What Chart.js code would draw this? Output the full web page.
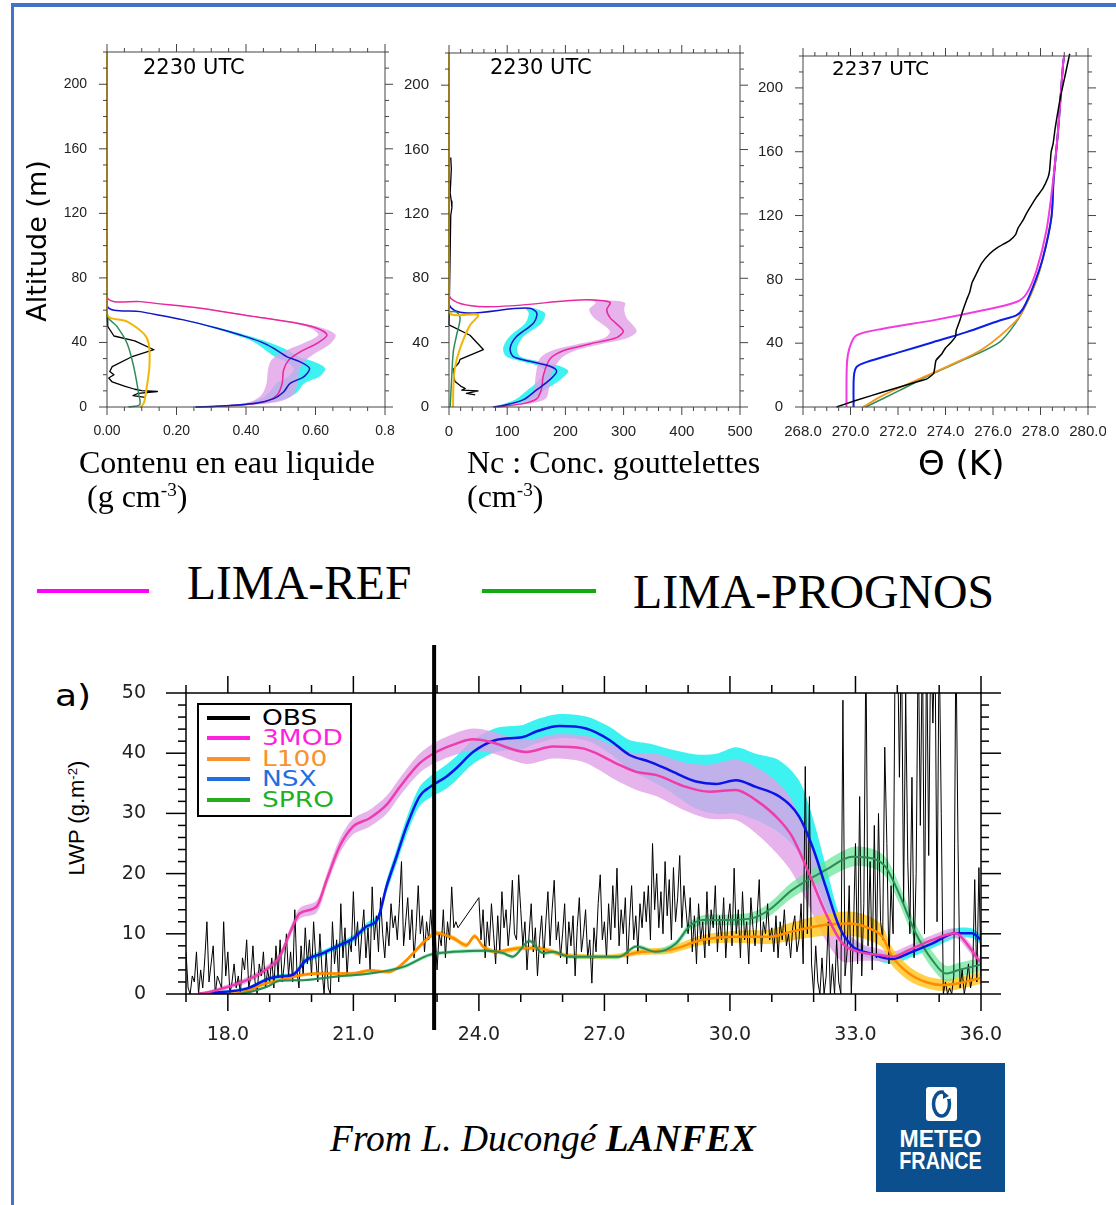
<!DOCTYPE html>
<html><head><meta charset="utf-8">
<script src="https://cdn.jsdelivr.net/npm/chart.js@4/dist/chart.umd.min.js"></script>
<style>
html,body{margin:0;padding:0;background:#fff;}
#page{position:relative;width:1116px;height:1205px;overflow:hidden;background:#fff;}
.abs{position:absolute;white-space:nowrap;line-height:1;}
canvas{position:absolute;}
.serif{font-family:"Liberation Serif","Times New Roman",serif;color:#000;}
.dv{font-family:"DejaVu Sans",sans-serif;color:#000;}
.sup{font-size:60%;position:relative;top:-0.55em;}
</style></head><body>
<div id="page">
  <div class="abs" style="left:11px;top:3px;width:1105px;height:4px;background:#4472c4"></div>
  <div class="abs" style="left:11px;top:3px;width:3px;height:1202px;background:#4472c4"></div>

  <canvas id="c1" width="390" height="420" style="left:15px;top:30px"></canvas>
  <canvas id="c2" width="365" height="420" style="left:395px;top:30px"></canvas>
  <canvas id="c3" width="351" height="420" style="left:755px;top:30px"></canvas>
  <canvas id="c4" width="930" height="420" style="left:100px;top:630px"></canvas>

  <div class="abs dv" style="left:143px;top:57px;font-size:21px">2230 UTC</div>
  <div class="abs dv" style="left:490px;top:57px;font-size:21px">2230 UTC</div>
  <div class="abs dv" style="left:832px;top:58px;font-size:20px">2237 UTC</div>

  <div class="abs dv" style="left:-63px;top:224px;width:200px;height:34px;line-height:34px;text-align:center;font-size:27px;transform:rotate(-90deg)">Altitude (m)</div>

  <div class="abs serif" style="left:79px;top:446px;font-size:32px">Contenu en eau liquide</div>
  <div class="abs serif" style="left:87px;top:480px;font-size:32px">(g cm<span class="sup">-3</span>)</div>
  <div class="abs serif" style="left:467px;top:446px;font-size:32px">Nc : Conc. gouttelettes</div>
  <div class="abs serif" style="left:467px;top:480px;font-size:32px">(cm<span class="sup">-3</span>)</div>
  <div class="abs dv" style="left:918px;top:446px;font-size:34px">Θ (K)</div>

  <div class="abs" style="left:37px;top:589px;width:112px;height:4px;background:#ff00ff"></div>
  <div class="abs serif" style="left:187px;top:560px;font-size:47.5px">LIMA-REF</div>
  <div class="abs" style="left:482px;top:589px;width:114px;height:4px;background:#11aa11"></div>
  <div class="abs serif" style="left:633px;top:568px;font-size:47.8px">LIMA-PROGNOS</div>

  <div class="abs dv" style="left:55px;top:681px;font-size:30px;transform:scaleX(1.2);transform-origin:left">a)</div>
  <div class="abs" style="left:-3px;top:804px;width:160px;height:28px;line-height:28px;text-align:center;font-family:'Liberation Sans',Arial,sans-serif;font-size:22px;transform:rotate(-90deg)">LWP (g.m<span class="sup">-2</span>)</div>

  <div class="abs" style="left:197px;top:703px;width:155px;height:114px;border:2px solid #000;box-sizing:border-box;background:#fff"></div>
  <div id="lg"></div>

  <div class="abs serif" style="left:330px;top:1120px;font-size:37.5px;font-style:italic">From L. Ducongé <b>LANFEX</b></div>

  <div class="abs" style="left:876px;top:1063px;width:129px;height:129px;background:#0b4f8e"></div>
  <svg style="position:absolute;left:926px;top:1087px" width="31" height="34" viewBox="0 0 31 34">
    <rect x="0" y="0" width="31" height="34" rx="3" fill="#fff"/>
    <ellipse cx="15.5" cy="17" rx="8" ry="12" fill="none" stroke="#0b4f8e" stroke-width="3.5"/>
    <rect x="18" y="3" width="6" height="9" fill="#fff"/>
    <path d="M17 4 L23 9 L17 12 Z" fill="#0b4f8e"/>
  </svg>
  <div class="abs" style="left:876px;top:1128px;width:129px;text-align:center;color:#fff;font-family:'Liberation Sans',Arial,sans-serif;font-weight:bold;font-size:23px">METEO</div>
  <div class="abs" style="left:876px;top:1150px;width:129px;text-align:center;color:#fff;font-family:'Liberation Sans',Arial,sans-serif;font-weight:bold;font-size:23px;transform:scaleX(0.86)">FRANCE</div>
</div>
<script>
// ---------------- DATA ----------------
// Panel 1: liquid water content profiles (altitude m, LWC)
const lwcAltRef = [220, 68.5, 65.3, 61.2, 56.4, 52.3, 48.8, 44.6, 39.4, 34.2, 29.1, 22.8, 14.6, 7.3, 3.1, 0.9, 0];
const lwcRef    = [0, 0, 0.096, 0.269, 0.413, 0.537, 0.604, 0.633, 0.604, 0.556, 0.523, 0.508, 0.504, 0.489, 0.451, 0.364, 0.254];
const lwcRefSpread = [0, 0, 0.004, 0.006, 0.008, 0.012, 0.018, 0.025, 0.04, 0.05, 0.05, 0.045, 0.045, 0.045, 0.04, 0.02, 0.01];
const lwcAltNsx = [220, 63.3, 59.1, 54.0, 48.8, 44.6, 40.5, 36.3, 31.1, 28.0, 23.9, 18.7, 14.6, 9.3, 5.2, 2.1, 0.4, 0];
const lwcNsx    = [0, 0, 0.096, 0.220, 0.317, 0.384, 0.441, 0.480, 0.518, 0.556, 0.583, 0.566, 0.527, 0.508, 0.480, 0.422, 0.317, 0.255];
const lwcNsxSpread = [0, 0, 0.003, 0.005, 0.01, 0.015, 0.02, 0.03, 0.035, 0.04, 0.045, 0.045, 0.04, 0.04, 0.035, 0.03, 0.015, 0.01];
const lwcAltObs = [57, 50, 44, 41, 35.5, 31, 25, 22, 20, 18, 15.5, 13, 11, 10.2, 9.6, 8.5, 7, 6];
const lwcObs    = [0, 0.002, 0.02, 0.08, 0.135, 0.07, 0.015, 0.008, 0.02, 0.005, 0.015, 0.05, 0.08, 0.10, 0.145, 0.09, 0.075, 0.11];
const lwcAltSpro = [220, 57, 49.8, 39.4, 24.9, 8.3, 1.5, 0];
const lwcSpro    = [0, 0, 0.029, 0.058, 0.077, 0.091, 0.094, 0.062];
const lwcAltL100 = [220, 57.5, 52.9, 45.6, 39.4, 24.9, 10.4, 3.1, 0.5, 0];
const lwcL100    = [0, 0, 0.058, 0.105, 0.12, 0.122, 0.113, 0.107, 0.1, 0.095];

// Panel 2: droplet concentration profiles (cm-3)
const ncAltRef = [220, 69, 66.6, 65, 60.6, 55.4, 47.2, 43.1, 39.2, 35, 29.9, 19.6, 11.3, 5.2, 2.1, 0];
const ncRef    = [0, 0, 242, 277, 271, 277, 299.5, 288, 242, 196, 173.5, 162, 159, 151, 128, 82];
const ncRefSpread = [0, 0, 10, 25, 30, 28, 23, 20, 20, 20, 18, 13, 13, 15, 10, 5];
const ncAltNsx = [220, 63.9, 61.4, 58.3, 52.1, 43.8, 36.6, 31.5, 28.4, 25.3, 22.2, 17, 10.8, 4.6, 0.9, 0];
const ncNsx    = [0, 0, 139, 151, 145, 116, 105, 110, 139, 173.5, 185, 173.5, 151, 128, 93, 76];
const ncNsxSpread = [0, 0, 8, 14, 14, 12, 12, 12, 15, 18, 20, 18, 15, 14, 8, 4];
const ncAltObs = [155, 148, 140, 133, 128, 124, 119, 51, 44.6, 35.7, 29.6, 27.5, 23.4, 16, 13, 11.5, 10.5, 10, 8.5, 7.5];
const ncObs    = [3, 4, 3, 2, 4, 5, 3, 0, 36, 59, 19, 17, 7, 10, 20, 28, 22, 50, 30, 45];
const ncAltSpro = [220, 60, 59, 55, 44.6, 34.3, 18, 0];
const ncSpro    = [0, 0, 13, 19, 13, 7.4, 4.6, 2];
const ncAltL100 = [220, 59.3, 57.3, 50.8, 36.4, 24, 11.6, 0];
const ncL100    = [0, 0, 50, 36, 19, 10, 7.4, 7];

// Panel 3: potential temperature profiles (K)
const thAltRef = [0, 27.2, 37.6, 44.9, 49.1, 54.3, 60.6, 65.8, 71, 85.6, 110.6, 141.9, 173.2, 215, 220];
const thRef    = [269.83, 269.85, 269.97, 270.25, 271.37, 273.47, 275.58, 276.98, 277.41, 277.83, 278.25, 278.53, 278.74, 278.95, 279.0];
const thAltNsx = [0, 18.8, 25, 28.1, 34.4, 40.6, 46.9, 54.2, 57.4, 61.5, 75.1, 93.9, 118.9, 141.9, 173.2, 215, 220];
const thNsx    = [270.13, 270.14, 270.25, 270.67, 272.07, 273.47, 274.88, 276.28, 276.98, 277.26, 277.68, 278.11, 278.46, 278.55, 278.74, 278.95, 279.0];
const thAltL100 = [0, 7.3, 16.7, 26.1, 36.5, 54.2, 64.6, 79.3, 93.9, 118.9, 141.9, 173.2, 215, 220];
const thL100    = [270.53, 271.37, 272.77, 274.18, 275.58, 276.98, 277.41, 277.83, 278.11, 278.46, 278.55, 278.74, 278.95, 279.0];
const thAltSpro = [0, 10.4, 20.9, 30.3, 40.7, 53.2, 64.6, 79.3, 93.9, 118.9, 141.9, 173.2, 215, 220];
const thSpro    = [270.64, 272.07, 273.47, 274.88, 276.28, 276.98, 277.41, 277.83, 278.11, 278.46, 278.55, 278.74, 278.95, 279.0];
const thAltObs = [0, 4.2, 9.4, 15.7, 17.5, 21, 29.2, 33.4, 37, 39.6, 44, 48, 50, 55, 60, 66.8, 72, 78, 83.5, 90, 96, 100, 104.3, 108, 112, 116.9, 121, 126, 131.5, 137, 144, 148, 155, 160, 164.9, 175, 185.8, 195, 206.7, 221.4];
const thObs    = [269.41, 270.25, 271.37, 272.77, 273.2, 273.5, 273.6, 273.85, 274.0, 274.18, 274.42, 274.45, 274.5, 274.62, 274.72, 274.88, 275.02, 275.12, 275.3, 275.52, 275.86, 276.2, 276.7, 276.95, 277.05, 277.26, 277.4, 277.6, 277.83, 278.1, 278.32, 278.38, 278.42, 278.45, 278.53, 278.62, 278.74, 278.85, 279.02, 279.23];

// Axis ticks
const altTicks = [0, 40, 80, 120, 160, 200];
const altTickLabels = ['0', '40', '80', '120', '160', '200'];
const lwcTicks = [0, 0.2, 0.4, 0.6, 0.8];
const lwcTickLabels = ['0.00', '0.20', '0.40', '0.60', '0.8'];
const ncTicks = [0, 100, 200, 300, 400, 500];
const ncTickLabels = ['0', '100', '200', '300', '400', '500'];
const thTicks = [268, 270, 272, 274, 276, 278, 280];
const thTickLabels = ['268.0', '270.0', '272.0', '274.0', '276.0', '278.0', '280.0'];
const lwpTimeTicks = [18, 21, 24, 27, 30, 33, 36];
const lwpTimeLabels = ['18.0', '21.0', '24.0', '27.0', '30.0', '33.0', '36.0'];
const lwpTicks = [0, 10, 20, 30, 40, 50];
const lwpTickLabels = ['0', '10', '20', '30', '40', '50'];

// Panel 4: LWP time series (hours UTC, g m-2)
const obsStart = 17.0, obsStep = 0.05;
const obsLwp = [
  7,1,0,3,2,7,0,4,1,6,12,2,5,8,0,3,2,1,12,3,
  7,0,2,5,1,3,0,6,4,9,1,3,8,2,0,5,3,7,1,4,
  2,6,1,8,3,9,2,5,10,3,7,2,14,4,1,8,3,11,5,9,
  3,12,6,2,10,4,0,7,1,0,12,5,9,2,15,6,11,3,9,7,
  17,8,12,5,10,14,6,11,4,17.8,9,13,7,16,10,6,12,8,15,11,
  13,9,15,22,8,12,16,9,14,6,11,18,10,13,7,12,9,14,8,11,
  4,10,8,14,6,12,9,17.8,11,12,11,null,null,null,null,null,null,null,null,null,
  16,9,14,6,12,8,15,10,5,13,7,17,11,14,8,12,18.9,10,9,19.8,
  14,8,12,4,10,15,7,11,3,9,13,6,12,17,8,14,18.9,9,12,6,
  10,15,5,12,8,13,3,11,16,7,10,14,6,9,1.8,11,7,15,19.8,9,
  12,6,15,9,18,11,20.9,8,14,10,16,5,12,18,9,13,7,15,11,17,
  12,18,9,25,14,20,11,17,10,22,13,19,9,21,12,16,23,11,18,14,
  10,16,7,13,5,15,9,12,6,17,8,14,11,18,7,13,9,16,6,12,
  15,8,20.9,10,14,6,17,9,12,5,16,11,8,13,19,7,12,10,15,9,
  11,7,13,6,12,9,14,8,10,6,11,13,7,9,15,5,37.8,10,32.8,5,
  0,8,2,0,6,0,3,12,0,5,0,9,2,0,48.8,3,7,18,0,10,
  25,5,32.8,3,15,58,8,22,4,28,6,30,12,9,41,25,5,18,10,60,
  62,36,60,15,50,22,10,36,6,20,60,28,60,10,60,23,60,45,60,12,
  60,30,0,2,0,1,0,3,60,25,1,4,0,2,5,1,3,19,2,21,
  3
];
const t3mod = [17.3, 17.6, 18.45, 19.0, 19.24, 19.48, 19.72, 20.12, 20.36, 20.67, 20.99, 21.39, 21.79, 22.11, 22.58, 22.98, 23.46, 23.86, 24.26, 25.13, 25.77, 26.48, 26.8, 27.28, 27.76, 28.23, 28.95, 29.51, 30.14, 30.62, 31.18, 31.49, 31.89, 32.29, 32.69, 33.09, 33.56, 33.88, 34.28, 34.84, 35.39, 35.71, 35.95, 36.0];
const lwp3mod = [0, 0.4, 2.3, 4.5, 6.2, 10.1, 13.4, 14.5, 18.9, 24.5, 27.8, 29.2, 31.4, 34.4, 38.3, 40.2, 41.6, 42.3, 41.9, 40.2, 41.1, 40.8, 40.0, 38.3, 36.9, 36.4, 34.4, 33.6, 33.9, 32.2, 28.9, 26.1, 20.0, 13.4, 8.4, 7.0, 6.5, 6.2, 7.3, 9.0, 10.1, 7.9, 5.6, 5.3];
const spread3mod = [0.2, 0.3, 0.5, 0.6, 0.7, 0.8, 0.9, 1, 1, 1.2, 1.3, 1.4, 1.5, 1.5, 1.6, 1.7, 1.8, 1.8, 1.8, 2, 2, 2.2, 2.5, 2.8, 3, 3.5, 4, 4.5, 5, 5.5, 6, 6, 5.5, 4.5, 3, 1.5, 1, 0.8, 0.8, 0.8, 0.8, 0.8, 0.8, 0.8];
const tNsx = [17.3, 17.65, 18.45, 19.0, 19.24, 19.56, 19.87, 20.28, 20.67, 20.99, 21.31, 21.59, 21.79, 22.03, 22.27, 22.58, 22.9, 23.22, 23.46, 23.86, 24.41, 25.05, 25.37, 25.93, 26.56, 27.12, 27.6, 28.07, 28.55, 29.19, 29.67, 30.14, 30.62, 31.18, 31.65, 31.97, 32.29, 32.61, 32.93, 33.33, 33.88, 34.28, 34.84, 35.39, 35.79, 35.95, 36.0];
const lwpNsx = [0, 0.2, 0.9, 2.6, 2.9, 3.2, 5.6, 6.8, 8.1, 9.2, 11.2, 12.6, 17.8, 22.8, 27.8, 32.8, 34.7, 36.1, 37.5, 40.2, 42.2, 42.7, 43.6, 44.5, 44.1, 42.2, 39.7, 38.6, 37.2, 35.3, 34.9, 35.5, 34.4, 32.8, 29.5, 24.5, 17.8, 11.2, 7.9, 6.8, 5.8, 6.8, 8.4, 10.1, 10.1, 9.3, 9.0];
const spreadNsx = [0.2, 0.2, 0.3, 0.4, 0.4, 0.4, 0.5, 0.5, 0.5, 0.6, 0.6, 0.7, 1, 1.2, 1.4, 1.6, 1.8, 2, 2, 2, 2, 2, 2, 2, 2, 2.2, 2.5, 3, 3.5, 4.5, 5, 5.5, 5.5, 6, 6, 5, 3.5, 2, 1, 0.8, 0.8, 0.8, 0.8, 0.8, 0.8, 0.8, 0.8];
const tL100 = [17.3, 18.21, 18.93, 19.24, 19.8, 20.28, 20.99, 21.39, 21.87, 22.19, 22.5, 22.74, 22.98, 23.38, 23.7, 23.9, 24.1, 24.41, 24.97, 25.37, 25.77, 26.0, 26.56, 27.2, 27.91, 28.55, 29.35, 30.14, 30.94, 31.49, 32.29, 32.85, 33.33, 33.64, 33.88, 34.28, 34.68, 35.07, 35.47, 35.95, 36.0];
const lwpL100 = [0, 0.1, 1.8, 2.3, 3.2, 3.4, 3.4, 3.9, 3.7, 5.1, 7.3, 9.0, 10.1, 9.3, 8.1, 9.6, 7.9, 7.0, 7.6, 7.6, 7.0, 6.5, 6.2, 6.2, 7.0, 7.3, 9.0, 9.5, 9.5, 10.4, 11.5, 11.7, 10.9, 9.5, 6.2, 3.4, 2.0, 1.5, 1.8, 2.6, 2.7];
const spreadL100 = [0.2, 0.2, 0.3, 0.3, 0.3, 0.3, 0.3, 0.3, 0.3, 0.3, 0.4, 0.4, 0.4, 0.4, 0.4, 0.4, 0.4, 0.4, 0.4, 0.4, 0.4, 0.4, 0.4, 0.4, 0.5, 0.6, 0.8, 1, 1.2, 1.5, 1.8, 2, 2, 1.8, 1.5, 1.2, 1, 1, 1, 1, 1];
const tSpro = [17.3, 18.21, 18.93, 19.24, 19.8, 20.6, 21.39, 22.19, 22.82, 23.38, 24.18, 24.57, 24.81, 25.21, 25.53, 25.77, 26.16, 26.96, 27.36, 27.76, 28.23, 28.71, 29.03, 29.35, 29.98, 30.54, 30.94, 31.49, 32.29, 32.93, 33.41, 33.72, 34.04, 34.44, 34.84, 35.16, 35.47, 35.95, 36.0];
const lwpSpro = [0, 0, 1.2, 2.2, 2.3, 2.9, 3.4, 4.5, 6.5, 7.0, 7.2, 6.8, 6.2, 8.8, 6.8, 7.0, 6.2, 6.2, 6.2, 7.9, 7.0, 8.4, 11.2, 12.3, 12.3, 12.6, 14.0, 17.3, 20.6, 22.8, 22.5, 21.1, 16.7, 10.1, 5.6, 3.4, 4.0, 4.8, 4.9];
const spreadSpro = [0.2, 0.2, 0.2, 0.2, 0.2, 0.2, 0.2, 0.3, 0.3, 0.3, 0.3, 0.3, 0.3, 0.3, 0.3, 0.3, 0.3, 0.3, 0.3, 0.3, 0.4, 0.5, 0.7, 0.8, 0.9, 1, 1.1, 1.3, 1.5, 1.6, 1.6, 1.6, 1.6, 1.5, 1.4, 1.3, 1.2, 1.1, 1.1];
const profileTime = 22.93;   // time of the profiles (vertical marker)

const seriesNames = ['OBS', '3MOD', 'L100', 'NSX', 'SPRO'];
const legendLineColors = ['#000000', '#ff22dd', '#f7922e', '#1f6fe0', '#22b022'];
const legendTextColors = ['#000000', '#ff22dd', '#f7922e', '#1f6fe0', '#22b022'];

// ---------------- HELPERS ----------------
Chart.defaults.animation = false;
Chart.defaults.font.family = "'Liberation Sans', Arial, sans-serif";

const framePlugin = {
  id: 'frame',
  afterDatasetsDraw(chart, args, o) {
    const {ctx, chartArea: a} = chart;
    const xs = chart.scales.x, ys = chart.scales.y;
    ctx.save();
    ctx.strokeStyle = o.color; ctx.lineWidth = o.lineWidth; ctx.lineCap = 'butt';
    const seg = (x1, y1, x2, y2) => { ctx.beginPath(); ctx.moveTo(x1, y1); ctx.lineTo(x2, y2); ctx.stroke(); };
    const isMaj = (v, step, base) => { const q = (v - base) / step; return Math.abs(q - Math.round(q)) < 1e-6; };
    for (let k = 0; ; k++) {
      const v = xs.min + k * o.xMinor; if (v > xs.max + 1e-9) break;
      const p = xs.getPixelForValue(v); const m = isMaj(v, o.xMajor, o.xBase);
      const L = m ? o.xMajLen : o.xMinLen;
      seg(p, a.bottom, p, a.bottom + L); seg(p, a.top, p, a.top - L);
    }
    for (let k = 0; ; k++) {
      const v = ys.min + k * o.yMinor; if (v > ys.max + 1e-9) break;
      const p = ys.getPixelForValue(v); const m = isMaj(v, o.yMajor, o.yBase);
      const L = m ? o.yMajLen : o.yMinLen;
      seg(a.left, p, a.left - L, p); seg(a.right, p, a.right + L, p);
    }
    ctx.strokeRect(a.left, a.top, a.right - a.left, a.bottom - a.top);
    ctx.restore();
  }
};

const markerPlugin = {
  id: 'marker',
  afterDatasetsDraw(chart, args, o) {
    if (!o || o.value === undefined) return;
    const {ctx, chartArea: a} = chart;
    const p = chart.scales.x.getPixelForValue(o.value);
    ctx.save(); ctx.strokeStyle = '#000'; ctx.lineWidth = o.width;
    ctx.beginPath(); ctx.moveTo(p, a.top - o.above); ctx.lineTo(p, a.bottom + o.below); ctx.stroke();
    ctx.restore();
  }
};

function axis(min, max, ticks, labels, font, padding, fit, isY) {
  return {
    type: 'linear', min, max,
    grid: {display: false, drawTicks: false}, border: {display: false},
    afterBuildTicks: s => { s.ticks = ticks.map(v => ({value: v})); },
    ticks: {callback: (v, i) => labels[i], font, color: '#222', padding, maxRotation: 0, autoSkip: false},
    afterFit: s => {
      if (isY) s.width = fit; else s.height = fit;
      s.paddingTop = 0; s.paddingBottom = 0; s.paddingLeft = 0; s.paddingRight = 0;
    }
  };
}

function prof(alts, vals, color, width, order, tension) {
  return {data: alts.map((a, i) => ({x: vals[i], y: a})), borderColor: color, borderWidth: width,
    pointRadius: 0, fill: false, tension: tension === undefined ? 0.3 : tension, order, clip: 3, borderJoinStyle: 'round'};
}
function profBand(alts, vals, sp, color, order) {
  const idx = alts.map((a, i) => i).filter(i => sp[i] > 0);
  const left = idx.map(i => ({x: vals[i] - sp[i], y: alts[i]}));
  const right = idx.map(i => ({x: vals[i] + sp[i], y: alts[i]})).reverse();
  return {data: left.concat(right), borderColor: 'rgba(0,0,0,0)', backgroundColor: color, borderWidth: 1,
    pointRadius: 0, fill: 'shape', tension: 0.3, order};
}
function ts(t, v, color, width, order) {
  return {data: t.map((x, i) => ({x, y: v[i]})), borderColor: color, borderWidth: width, pointRadius: 0,
    fill: false, cubicInterpolationMode: 'monotone', order, borderJoinStyle: 'round'};
}
function tsBand(t, v, sp, color, order) {
  const up = t.map((x, i) => ({x, y: v[i] + sp[i]}));
  const lo = t.map((x, i) => ({x, y: Math.max(0, v[i] - sp[i])})).reverse();
  return {data: up.concat(lo), borderColor: 'rgba(0,0,0,0)', backgroundColor: color, borderWidth: 1,
    pointRadius: 0, fill: 'shape', tension: 0.3, order};
}

function baseOptions(pad, xScale, yScale, frame, extraPlugins) {
  return {
    responsive: false, maintainAspectRatio: false, animation: false, events: [],
    layout: {padding: pad, autoPadding: false},
    scales: {x: xScale, y: yScale},
    plugins: Object.assign({legend: {display: false}, tooltip: {enabled: false}, frame}, extraPlugins || {})
  };
}

const PINK_BAND = 'rgba(225,160,232,0.8)';
const CYAN_BAND = 'rgb(62,242,242)';
const topFrame = (xMajor, xMinor) => ({color: '#444', lineWidth: 1, xMajor, xMinor, xBase: 0, xMajLen: 8, xMinLen: 4,
  yMajor: 40, yMinor: 10, yBase: 0, yMajLen: 8, yMinLen: 4});

// ---------------- PANEL 1 ----------------
new Chart(document.getElementById('c1'), {
  type: 'line',
  data: {datasets: [
    prof(lwcAltL100, lwcL100, '#f2b705', 2, 1),
    prof(lwcAltSpro, lwcSpro, '#2e8b57', 1.5, 2),
    prof(lwcAltObs, lwcObs, '#000', 1.3, 3, 0),
    prof(lwcAltNsx, lwcNsx, '#1414c8', 1.5, 4),
    prof(lwcAltRef, lwcRef, '#e8289c', 1.5, 5),
    profBand(lwcAltRef, lwcRef, lwcRefSpread, PINK_BAND, 6),
    profBand(lwcAltNsx, lwcNsx, lwcNsxSpread, CYAN_BAND, 7)
  ]},
  options: baseOptions({top: 22, right: 20, left: 0, bottom: 0},
    axis(0, 0.8, lwcTicks, lwcTickLabels, {size: 14}, 16, 43, false),
    axis(0, 220, altTicks, altTickLabels, {size: 14}, 20, 92, true),
    Object.assign(topFrame(0.2, 0.05), {xBase: 0})),
  plugins: [framePlugin]
});

// ---------------- PANEL 2 ----------------
new Chart(document.getElementById('c2'), {
  type: 'line',
  data: {datasets: [
    prof(ncAltL100, ncL100, '#f2b705', 2, 1),
    prof(ncAltSpro, ncSpro, '#2e8b57', 1.5, 2),
    prof(ncAltObs, ncObs, '#000', 1.3, 3, 0),
    prof(ncAltNsx, ncNsx, '#1414c8', 1.5, 4),
    prof(ncAltRef, ncRef, '#e8289c', 1.5, 5, 0.25),
    profBand(ncAltRef, ncRef, ncRefSpread, PINK_BAND, 6),
    profBand(ncAltNsx, ncNsx, ncNsxSpread, CYAN_BAND, 7)
  ]},
  options: baseOptions({top: 23, right: 20, left: 0, bottom: 0},
    axis(0, 500, ncTicks, ncTickLabels, {size: 15}, 16, 43, false),
    axis(0, 220, altTicks, altTickLabels, {size: 15}, 20, 54, true),
    topFrame(100, 20)),
  plugins: [framePlugin]
});

// ---------------- PANEL 3 ----------------
new Chart(document.getElementById('c3'), {
  type: 'line',
  data: {datasets: [
    prof(thAltObs, thObs, '#000', 1.5, 1, 0.15),
    prof(thAltRef, thRef, '#f03ce0', 2, 2),
    prof(thAltNsx, thNsx, '#0a1ee6', 2, 3),
    prof(thAltL100, thL100, '#f09a20', 1.8, 4),
    prof(thAltSpro, thSpro, '#2e8b57', 1.5, 5)
  ]},
  options: baseOptions({top: 26, right: 18, left: 0, bottom: 0},
    axis(268, 280, thTicks, thTickLabels, {size: 15}, 16, 43, false),
    axis(0, 220, altTicks, altTickLabels, {size: 15}, 20, 48, true),
    Object.assign(topFrame(2, 0.5), {xBase: 268})),
  plugins: [framePlugin]
});

// ---------------- PANEL 4 ----------------
const obsPoints = obsLwp.map((v, i) => ({x: obsStart + i * obsStep, y: v}));
new Chart(document.getElementById('c4'), {
  type: 'line',
  data: {datasets: [
    ts(t3mod, lwp3mod, '#f03caa', 2.5, 1),
    ts(tNsx, lwpNsx, '#0a14e6', 2.5, 2),
    ts(tSpro, lwpSpro, '#2e8b57', 2, 3),
    ts(tL100, lwpL100, '#ff8c00', 2.5, 4),
    {data: obsPoints, borderColor: '#000', borderWidth: 1, pointRadius: 0, fill: false, tension: 0, spanGaps: true, order: 5},
    tsBand(tSpro, lwpSpro, spreadSpro, 'rgba(100,230,150,0.7)', 6),
    tsBand(tL100, lwpL100, spreadL100, 'rgba(255,200,40,0.85)', 7),
    tsBand(t3mod, lwp3mod, spread3mod, PINK_BAND, 8),
    tsBand(tNsx, lwpNsx, spreadNsx, CYAN_BAND, 9)
  ]},
  options: baseOptions({top: 63, right: 49, left: 0, bottom: 0},
    axis(17, 36, lwpTimeTicks, lwpTimeLabels, {size: 19, family: "'DejaVu Sans', sans-serif"}, 30, 56, false),
    axis(0, 50, lwpTicks, lwpTickLabels, {size: 19, family: "'DejaVu Sans', sans-serif"}, 40, 86, true),
    {color: '#000', lineWidth: 1.5, xMajor: 3, xMinor: 1, xBase: 18, xMajLen: 17, xMinLen: 8,
     yMajor: 10, yMinor: 2, yBase: 0, yMajLen: 20, yMinLen: 8},
    {marker: {value: profileTime, width: 4, above: 48, below: 36}}),
  plugins: [framePlugin, markerPlugin]
});

// legend for panel 4 (HTML)
const lg = document.getElementById('lg');
const rowY = [718, 738, 759, 779, 800];
seriesNames.forEach((n, i) => {
  const line = document.createElement('div');
  line.className = 'abs';
  line.style.cssText = `left:207px;top:${rowY[i] - 2}px;width:43px;height:4px;background:${legendLineColors[i]}`;
  lg.appendChild(line);
  const tx = document.createElement('div');
  tx.className = 'abs dv';
  tx.style.cssText = `left:262px;top:${rowY[i] - 10}px;font-size:21px;color:${legendTextColors[i]};transform:scaleX(1.26);transform-origin:left`;
  tx.textContent = n;
  lg.appendChild(tx);
});
</script>
</body></html>
